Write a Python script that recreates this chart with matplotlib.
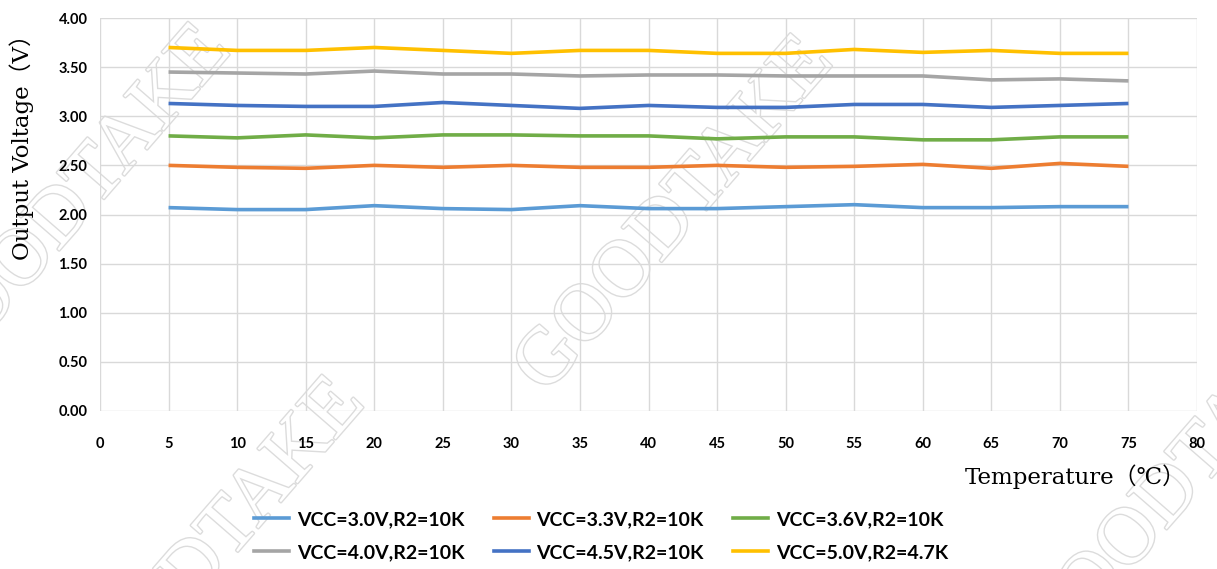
import matplotlib
matplotlib.use('Agg')
import matplotlib.pyplot as plt
import matplotlib.patheffects as pe
from matplotlib.lines import Line2D

# Temperature points (deg C)
temps = [5, 10, 15, 20, 25, 30, 35, 40, 45, 50, 55, 60, 65, 70, 75]

# Output voltage readings per supply setting
v_30 = [2.07, 2.05, 2.05, 2.09, 2.06, 2.05, 2.09, 2.06, 2.06, 2.08, 2.10, 2.07, 2.07, 2.08, 2.08]
v_33 = [2.50, 2.48, 2.47, 2.50, 2.48, 2.50, 2.48, 2.48, 2.50, 2.48, 2.49, 2.51, 2.47, 2.52, 2.49]
v_36 = [2.80, 2.78, 2.81, 2.78, 2.81, 2.81, 2.80, 2.80, 2.77, 2.79, 2.79, 2.76, 2.76, 2.79, 2.79]
v_40 = [3.45, 3.44, 3.43, 3.46, 3.43, 3.43, 3.41, 3.42, 3.42, 3.41, 3.41, 3.41, 3.37, 3.38, 3.36]
v_45 = [3.13, 3.11, 3.10, 3.10, 3.14, 3.11, 3.08, 3.11, 3.09, 3.09, 3.12, 3.12, 3.09, 3.11, 3.13]
v_50 = [3.70, 3.67, 3.67, 3.70, 3.67, 3.64, 3.67, 3.67, 3.64, 3.64, 3.68, 3.65, 3.67, 3.64, 3.64]

labels = ['VCC=3.0V,R2=10K', 'VCC=3.3V,R2=10K', 'VCC=3.6V,R2=10K',
          'VCC=4.0V,R2=10K', 'VCC=4.5V,R2=10K', 'VCC=5.0V,R2=4.7K']
colors = ['#5B9BD5', '#ED7D31', '#70AD47', '#A5A5A5', '#4472C4', '#FFC000']
series = [v_30, v_33, v_36, v_40, v_45, v_50]

x_ticks = list(range(0, 85, 5))
y_ticks = [0.0, 0.5, 1.0, 1.5, 2.0, 2.5, 3.0, 3.5, 4.0]

tick_font = ['Lato', 'DejaVu Sans']
serif_font = ['DejaVu Serif', 'Noto Sans CJK SC']

fig = plt.figure(figsize=(12.17, 5.69), dpi=100)
ax = fig.add_axes([100 / 1217, 1 - 411 / 569, 1097 / 1217, 393 / 569])

# faint diagonal watermark, behind everything
for (wx, wy) in [(0.555, 0.62), (0.06, 0.64), (0.97, 0.15), (0.17, 0.02)]:
    fig.text(wx, wy, 'GOODTAKE', fontsize=58, family='Liberation Serif', color='white',
             rotation=49, ha='center', va='center', zorder=-5,
             path_effects=[pe.withStroke(linewidth=2, foreground='#dcdcdc')])

ax.patch.set_alpha(0)
for s, c in zip(series, colors):
    ax.plot(temps, s, color=c, linewidth=2.6, solid_capstyle='butt', zorder=3)

ax.set_xlim(0, 80)
ax.set_ylim(0, 4)
ax.set_xticks(x_ticks)
ax.set_yticks(y_ticks)
ax.set_yticklabels([f'{v:.2f}' for v in y_ticks], fontsize=10.5, fontweight='bold', family=tick_font)
ax.set_xticklabels([str(v) for v in x_ticks], fontsize=10.5, fontweight='bold', family=tick_font)
ax.tick_params(axis='both', length=0)
ax.tick_params(axis='x', pad=19)
ax.tick_params(axis='y', pad=9)
ax.grid(True, color='#d9d9d9', linewidth=1)
for sp in ax.spines.values():
    sp.set_visible(False)

fig.text(22 / 1217, 1 - 142 / 569, 'Output Voltage（V）', rotation=90, fontsize=16.5,
         family=serif_font, ha='center', va='center')
fig.text(1075 / 1217, 1 - 477 / 569, 'Temperature（℃）', fontsize=16.5,
         family=serif_font, ha='center', va='center')

handles = [Line2D([0], [0], color=c, linewidth=2.6) for c in colors]
order = [0, 3, 1, 4, 2, 5]
fig.legend([handles[i] for i in order], [labels[i] for i in order], ncol=3,
           loc='center', bbox_to_anchor=(601 / 1217, 1 - 536 / 569), frameon=False,
           prop={'family': tick_font, 'weight': 'bold', 'size': 14},
           handlelength=1.8, columnspacing=1.5, labelspacing=0.8, handletextpad=0.4)

fig.savefig('out.png', dpi=100)
